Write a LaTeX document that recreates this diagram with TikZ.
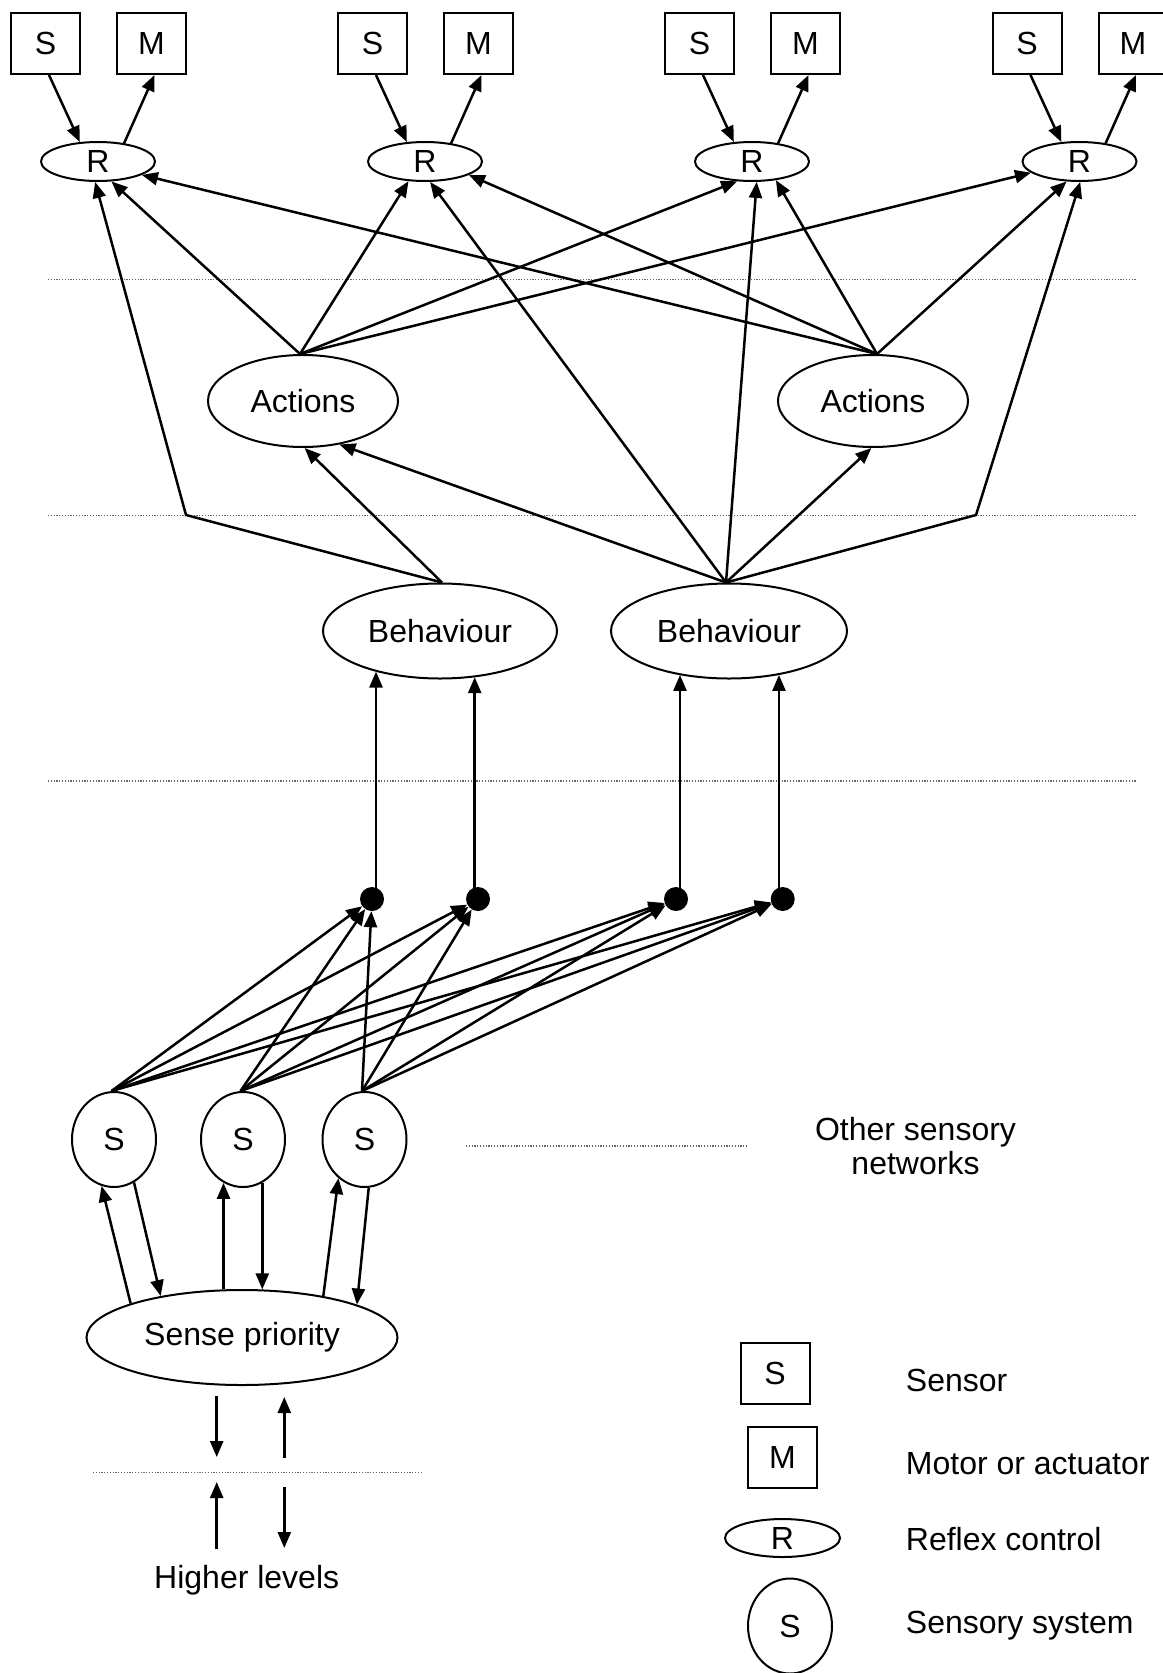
\documentclass[tikz,border=0pt]{standalone}
\usepackage{fontspec}
\setmainfont{Liberation Sans}
\usetikzlibrary{arrows.meta,shapes.geometric}
\begin{document}
\begin{tikzpicture}[x=1pt,y=-1pt,
  lbl/.style={font=\fontsize{32}{34}\selectfont, inner sep=0pt},
  box/.style={lbl, draw, line width=2pt, minimum width=69pt, minimum height=61pt},
  oval/.style={lbl, draw, ellipse, line width=2pt},
  conn/.style={line width=2.5pt, -{Triangle[length=16pt,width=13pt]}},
  sep/.style={line width=1.2pt, black!60, dash pattern=on 1.2pt off 1.6pt},
  dot/.style={circle, fill=black, minimum size=24pt, inner sep=0pt}
]
\useasboundingbox (0,0) rectangle (1162,1673);

% separators
\draw[sep] (48,279.6) -- (1136,279.6);
\draw[sep] (48,515.4) -- (1136,515.4);
\draw[sep] (48,781) -- (1136,781);
\draw[sep] (466,1146) -- (747,1146);
\draw[sep] (93,1472.7) -- (421,1472.7);

% top groups
\foreach \i/\rx in {1/98,2/425,3/752,4/1079.5} {
  \node[box] (s\i) at (\rx-52.5,43.5) {S};
  \node[box] (m\i) at (\rx+53.5,43.5) {M};
  \node[oval, minimum width=114pt, minimum height=39pt] (r\i) at (\rx,161.5) {R};
  \draw[conn] ([xshift=3.5pt]s\i.south) -- (r\i.133);
  \draw[conn] (r\i.35) -- ([xshift=3pt]m\i.south);
}

% actions and behaviours
\node[oval, minimum width=190pt, minimum height=92pt] (al) at (303,401) {Actions};
\node[oval, minimum width=190pt, minimum height=92pt] (ar) at (873,401) {Actions};
\node[oval, minimum width=234pt, minimum height=95pt] (bl) at (440,631) {Behaviour};
\node[oval, minimum width=236pt, minimum height=95pt] (br) at (729,631) {Behaviour};

\coordinate (alt) at ([xshift=-3pt]al.north);
\coordinate (art) at ([xshift=4pt]ar.north);
\coordinate (blt) at ([xshift=2pt]bl.north);
\coordinate (brt) at ([xshift=-3pt]br.north);
\coordinate (bendl) at (186,515);
\coordinate (bendr) at (976,515);

\draw[conn] (blt) -- (bendl) -- (r1.262);
\draw[conn] (brt) -- (bendr) -- (r4.272);
\draw[conn] (alt) -- (r1.304);
\draw[conn] (alt) -- (r2.230);
\draw[conn] (alt) -- (r3.233);
\draw[conn] (alt) -- (r4.193);
\draw[conn] (art) -- (r1.343);
\draw[conn] (art) -- (r2.343);
\draw[conn] (art) -- (r3.322);
\draw[conn] (art) -- (r4.237);
\draw[conn] (brt) -- (r2.284);
\draw[conn] (brt) -- (r3.283);
\draw[conn] (blt) -- (al.272);
\draw[conn] (brt) -- (al.310);
\draw[conn] (brt) -- (ar.268);

% dots and vertical links
\coordinate (v1) at (376,899);
\coordinate (v2) at (474.7,899);
\coordinate (v3) at (680,899);
\coordinate (v4) at (779,899);
\draw[conn] (v1) -- (v1 |- bl.212);
\draw[conn] (v2) -- (v2 |- bl.308);
\draw[conn] (v3) -- (v3 |- br.221);
\draw[conn] (v4) -- (v4 |- br.319);
\node[dot] (d1) at (372,899) {};
\node[dot] (d2) at (478,899) {};
\node[dot] (d3) at (676,899) {};
\node[dot] (d4) at (782.7,899) {};

% sensory systems
\node[oval, minimum width=84pt, minimum height=95pt] (ss1) at (114,1139.5) {S};
\node[oval, minimum width=84pt, minimum height=95pt] (ss2) at (243,1139.5) {S};
\node[oval, minimum width=84pt, minimum height=95pt] (ss3) at (364.5,1139.5) {S};
\foreach \s in {1,2,3} {
  \foreach \d in {1,2,3,4} {
    \draw[conn] ([xshift=-2.5pt]ss\s.north) -- (d\d);
  }
}

\node[lbl, align=center] (other) at (915.5,1146.5) {Other sensory\\networks};

% sense priority
\node[oval, minimum width=311pt, minimum height=95pt] (sp) at (242,1337.5) {Sense priority};
\draw[conn] (sp.163) -- (ss1.255);
\draw[conn] (ss1.295) -- (sp.153);
\draw[conn] (sp.111) -- (sp.111 |- ss2.246);
\draw[conn] (ss2.294) -- (ss2.294 |- sp.67);
\draw[conn] (sp.27) -- (ss3.236);
\draw[conn] (ss3.275) -- (sp.16);

% higher levels
\coordinate (ha1) at (216.7,1396);
\coordinate (hb1) at (216.7,1457);
\coordinate (ha2) at (284.3,1458);
\coordinate (hb2) at (284.3,1397);
\coordinate (ha3) at (216.7,1549);
\coordinate (hb3) at (216.7,1482);
\coordinate (ha4) at (284.3,1487);
\coordinate (hb4) at (284.3,1548);
\draw[conn] (ha1) -- (hb1);
\draw[conn] (ha2) -- (hb2);
\draw[conn] (ha3) -- (hb3);
\draw[conn] (ha4) -- (hb4);
\node[lbl, anchor=base] (higher) at (246.7,1588) {Higher levels};

% legend
\node[box] (ls) at (775,1373.5) {S};
\node[box] (lm) at (782.5,1457.5) {M};
\node[oval, minimum width=115pt, minimum height=38pt] (lr) at (782.5,1538) {R};
\node[oval, minimum width=84pt, minimum height=95pt] (lss) at (790,1626) {S};
\node[lbl, anchor=base west] (t1) at (905.7,1391) {Sensor};
\node[lbl, anchor=base west] (t2) at (905.7,1474) {Motor or actuator};
\node[lbl, anchor=base west] (t3) at (905.7,1550) {Reflex control};
\node[lbl, anchor=base west] (t4) at (905.7,1633) {Sensory system};
\end{tikzpicture}
\end{document}
